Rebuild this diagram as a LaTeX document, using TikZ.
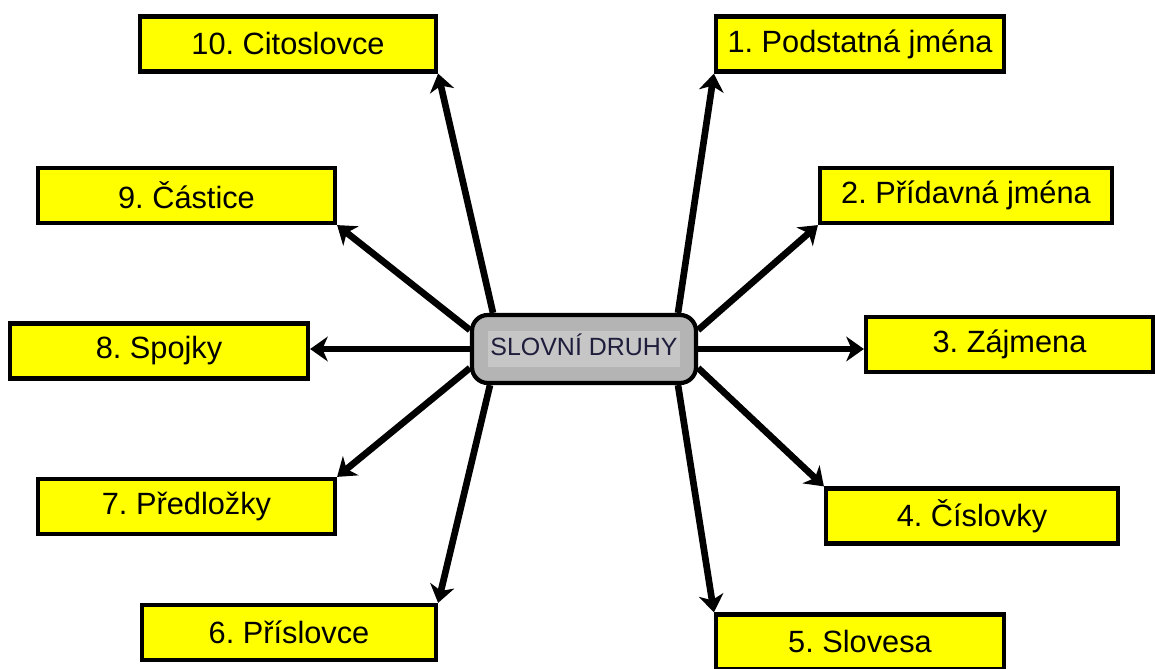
\documentclass[tikz,border=0pt]{standalone}
\usepackage{fontspec}
\setmainfont{Liberation Sans}
\frenchspacing
\usetikzlibrary{arrows.meta}
\definecolor{boxyellow}{RGB}{255,255,0}
\definecolor{hubgray}{RGB}{180,180,180}
\definecolor{hubtext}{RGB}{30,30,60}
\definecolor{hilite}{RGB}{198,198,198}

\begin{document}
\begin{tikzpicture}[
    druh/.style = {draw, line width=2.4pt, fill=boxyellow, minimum height=1.1cm, inner sep=0pt,
                   font=\fontsize{17.5}{20}\selectfont},
    hub/.style = {draw, line width=2.4pt, fill=hubgray, rounded corners=9pt, minimum width=4.48cm,
                  minimum height=1.36cm, inner sep=0pt, text=hubtext, font=\fontsize{14.2}{17}\selectfont},
    arr/.style = {line width=3.8pt, -{Stealth[length=10pt, width=14pt, inset=3pt]}}
]
    \useasboundingbox (0,0) rectangle (23.1,13.36);
    % the hub
    \node[hub] (H) at (11.68,6.38) {\setlength{\fboxsep}{1.5pt}\colorbox{hilite}{\strut SLOVNÍ DRUHY}};
    % right side
    \node[druh, minimum width=5.76cm] (D1) at (17.20,12.48) {1. Podstatná jména};
    \node[druh, minimum width=5.84cm] (D2) at (19.32,9.45) {2. Přídavná jména};
    \node[druh, minimum width=5.74cm] (D3) at (20.19,6.47) {3. Zájmena};
    \node[druh, minimum width=5.84cm] (D4) at (19.44,3.04) {4. Číslovky};
    \node[druh, minimum width=5.76cm] (D5) at (17.20,0.52) {5. Slovesa};
    % left side
    \node[druh, minimum width=5.88cm] (D6) at (5.78,0.71) {6. Příslovce};
    \node[druh, minimum width=5.94cm] (D7) at (3.73,3.23) {7. Předložky};
    \node[druh, minimum width=5.96cm] (D8) at (3.18,6.34) {8. Spojky};
    \node[druh, minimum width=5.94cm] (D9) at (3.73,9.45) {9. Částice};
    \node[druh, minimum width=5.92cm] (D10) at (5.76,12.48) {10. Citoslovce};
    % arrows
    \draw[arr] ([xshift=1.88cm]H.north) -- (D1.south west);
    \draw[arr] ([yshift=0.38cm]H.east) -- (D2.south west);
    \draw[arr] (H.east) -- (H.east -| D3.west);
    \draw[arr] ([yshift=-0.38cm]H.east) -- (D4.north west);
    \draw[arr] ([xshift=1.88cm]H.south) -- (D5.north west);
    \draw[arr] ([xshift=-1.88cm]H.south) -- (D6.north east);
    \draw[arr] ([yshift=-0.38cm]H.west) -- (D7.north east);
    \draw[arr] (H.west) -- (H.west -| D8.east);
    \draw[arr] ([yshift=0.38cm]H.west) -- (D9.south east);
    \draw[arr] ([xshift=-1.82cm]H.north) -- (D10.south east);
\end{tikzpicture}
\end{document}
